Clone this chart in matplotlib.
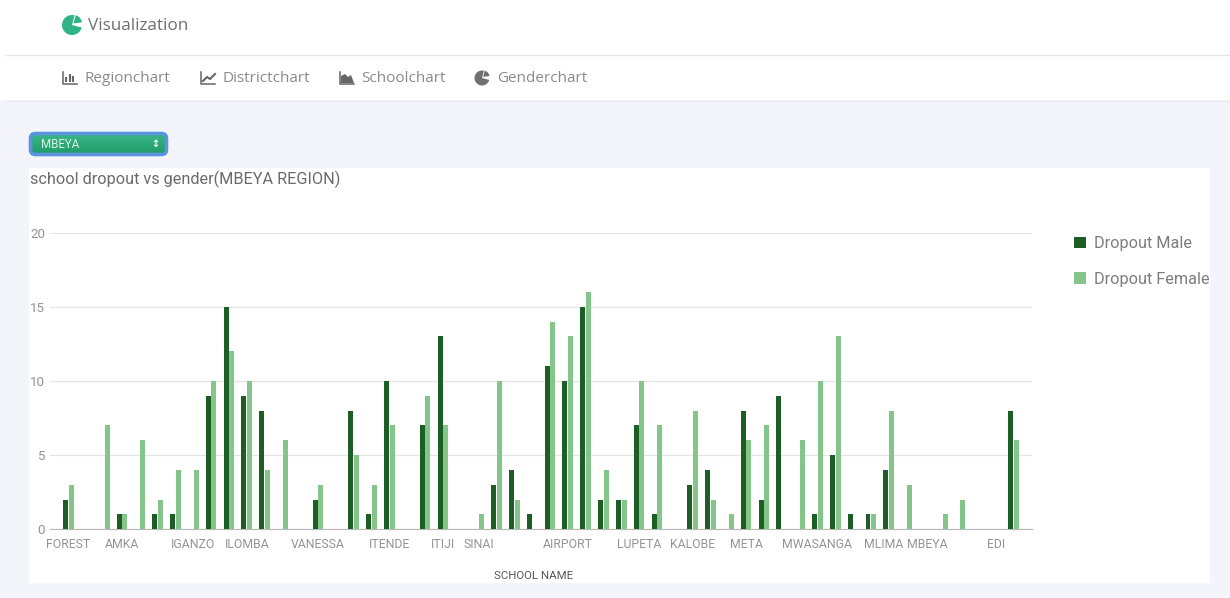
import numpy as np
import matplotlib
matplotlib.use('Agg')
import matplotlib.pyplot as plt
from matplotlib.patches import Rectangle, FancyBboxPatch, Wedge, Polygon
from matplotlib.transforms import ScaledTranslation

# one slot per school, most names are skipped on the axis like in the original
male = [2, 0, 0, 1, 0, 1, 1, 0, 9, 15, 9, 8, 0, 0, 2, 0, 8, 1, 10, 0, 7, 13, 0, 0, 3, 4, 1,
        11, 10, 15, 2, 2, 7, 1, 0, 3, 4, 0, 8, 2, 9, 0, 1, 5, 1, 1, 4, 0, 0, 0, 0, 0, 0, 8]
female = [3, 0, 7, 1, 6, 2, 4, 4, 10, 12, 10, 4, 6, 0, 3, 0, 5, 3, 7, 0, 9, 7, 0, 1, 10, 2, 0,
          14, 13, 16, 4, 2, 10, 7, 0, 8, 2, 1, 6, 7, 0, 6, 10, 13, 0, 1, 8, 3, 0, 1, 2, 0, 0, 6]
tick_slots = [0, 3, 7, 10, 14, 18, 21, 23, 28, 32, 35, 38, 42, 46, 48, 52]
tick_names = ['FOREST', 'AMKA', 'IGANZO', 'ILOMBA', 'VANESSA', 'ITENDE', 'ITIJI', 'SINAI',
              'AIRPORT', 'LUPETA', 'KALOBE', 'META', 'MWASANGA', 'MLIMA', 'MBEYA', 'EDI']
y_ticks = [0, 5, 10, 15, 20]
nav_items = ['Regionchart', 'Districtchart', 'Schoolchart', 'Genderchart']

W, H = 1230, 598
DARK = '#1d5e24'
LIGHT = '#84c68a'
TEAL = '#2fb384'
GREY = '#949494'
NAV = '#8a8a8a'

fig = plt.figure(figsize=(W / 100, H / 100), dpi=100, facecolor='#f3f5fb')


def px_axes(left, top, right, bottom, **kw):
    return fig.add_axes([left / W, 1 - bottom / H, (right - left) / W, (bottom - top) / H], **kw)


# page furniture, drawn in pixel coordinates
bg = px_axes(0, 0, W, H, zorder=0)
bg.set_xlim(0, W)
bg.set_ylim(H, 0)
bg.axis('off')
bg.add_patch(Rectangle((0, 0), W, 100, fc='white', ec='none'))
bg.plot([5, W], [55, 55], color='#e6e6e6', lw=1)
bg.plot([5, W], [100.5, 100.5], color='#e9ebf0', lw=1)
bg.add_patch(Rectangle((29, 168), 1181, 415, fc='white', ec='none'))


def pie_icon(cx, cy, r, color):
    # y axis is flipped here, so angles run clockwise on screen
    bg.add_patch(Wedge((cx, cy), r, 15, 285, fc=color, ec='none'))
    bg.add_patch(Wedge((cx + r * 0.15, cy - r * 0.15), r * 0.85, 285, 352, fc=color, ec='none'))


pie_icon(72, 25, 10, TEAL)
bg.text(88.5, 25.5, 'Visualization', family='Open Sans', fontsize=12.3, color='#707070', va='center')

nav_x = [84, 222, 361, 497]
for name, x in zip(nav_items, nav_x):
    bg.text(x, 79, name, family='Open Sans', fontsize=11, color=NAV, va='center')

# nav icons
bg.plot([62.5, 62.5, 77], [72, 84, 84], color='#666666', lw=1.1)
bg.vlines([66, 69.5, 73], [77, 74, 76], 82, color='#666666', lw=1.5)
bg.plot([201, 201, 215], [72, 84, 84], color='#666666', lw=1.1)
bg.plot([203, 207, 210, 215], [81, 77, 79, 74], color='#666666', lw=1.5)
bg.plot([340, 340, 354], [72, 84, 84], color='#666666', lw=1.1)
bg.add_patch(Polygon([[341, 83], [341, 76], [345, 74], [348, 77], [351, 75], [354, 83]], fc='#666666', ec='none'))
pie_icon(482, 78, 7.5, '#707070')

# region dropdown
sel = FancyBboxPatch((30.5, 133.5), 136, 21, boxstyle='round,pad=0,rounding_size=5',
                     fc='none', ec='#5b93dc', lw=2.6, zorder=2)
bg.add_patch(sel)
grad = np.linspace(0, 1, 30).reshape(-1, 1)
img = bg.imshow(grad, extent=(30, 167, 155, 133), aspect='auto', zorder=1,
                cmap=matplotlib.colors.LinearSegmentedColormap.from_list('s', ['#3bb78c', '#1f9a66']))
img.set_clip_path(sel)
bg.set_xlim(0, W)
bg.set_ylim(H, 0)
bg.text(41, 144, 'MBEYA', family='Roboto', fontsize=8.3, color='#d8f3e6', va='center', zorder=3)
bg.text(155, 144, '\u2195', fontsize=7, color='white', va='center', ha='center', zorder=3, fontweight='bold')

bg.text(30, 179, 'school dropout vs gender(MBEYA REGION)', family='Roboto', fontsize=11.7,
        color='#6a6a6a', va='center')

# chart
ax = px_axes(50, 232.5, 1032, 529.3, zorder=2)
ax.patch.set_alpha(0)
x = np.arange(len(male))
m_bars = ax.bar(x - 0.16, male, width=0.28, color=DARK, label='Dropout Male', zorder=3)
f_bars = ax.bar(x + 0.16, female, width=0.28, color=LIGHT, label='Dropout Female', zorder=2)

ax.set_xlim((50 - 68.5) / 17.83, (1032 - 68.5) / 17.83)
ax.set_ylim(0, 20)
ax.set_yticks(y_ticks)
ax.yaxis.grid(True, color='#e4e4e4', lw=0.9)
ax.set_axisbelow(True)
for s in ['top', 'right', 'left']:
    ax.spines[s].set_visible(False)
ax.spines['bottom'].set_color('#b8b8b8')
ax.set_xticks(tick_slots)
ax.set_xticklabels(tick_names, family='Roboto', fontsize=8.8, color=GREY)
ax.tick_params(axis='x', length=0, pad=6)
ax.tick_params(axis='y', length=0, pad=3.6, labelsize=9.6, labelcolor=GREY)
for lab in ax.get_yticklabels():
    lab.set_family('Roboto')

# these two names sit a little off their slots in the original
for lab, dx in zip(ax.get_xticklabels()[13:15], [-5, 3]):
    lab.set_transform(lab.get_transform() + ScaledTranslation(dx / 100, 0, fig.dpi_scale_trans))

ax.set_xlabel('SCHOOL NAME', family='Roboto', fontsize=8.2, color='#555555', labelpad=15, x=0.4925)

leg = ax.legend(loc='upper left', bbox_to_anchor=(1074 / W, 1 - 236 / H), bbox_transform=fig.transFigure,
                frameon=False, prop={'family': 'Roboto', 'size': 11.7}, labelcolor='#7d7d7d',
                handlelength=0.72, handleheight=0.72, handletextpad=0.53, labelspacing=1.27,
                borderpad=0, borderaxespad=0)

plt.savefig('out.png', dpi=100, facecolor=fig.get_facecolor())
